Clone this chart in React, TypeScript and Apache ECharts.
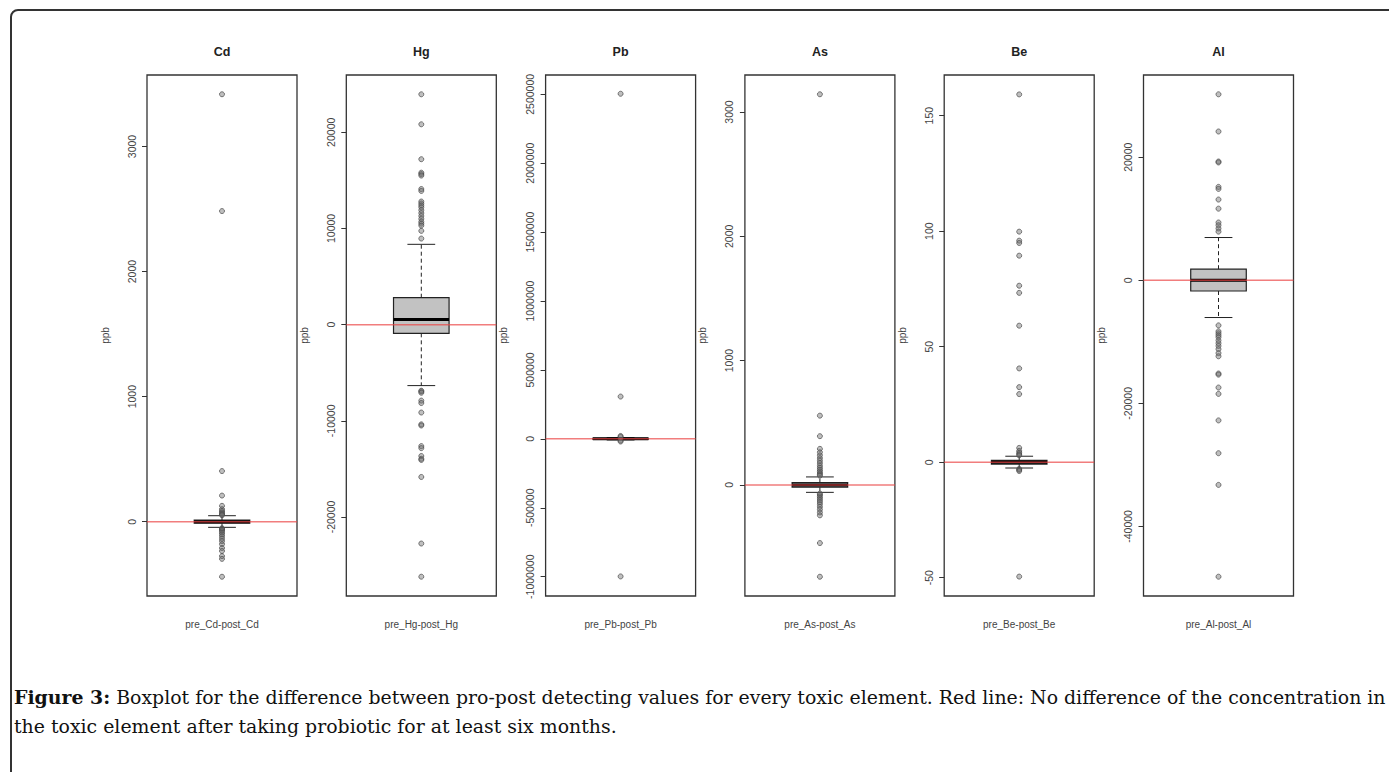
import React, { useEffect, useRef } from "react";
import * as echarts from "echarts";

const elements = ["Cd", "Hg", "Pb", "As", "Be", "Al"];
const xLabels = ["pre_Cd-post_Cd", "pre_Hg-post_Hg", "pre_Pb-post_Pb", "pre_As-post_As", "pre_Be-post_Be", "pre_Al-post_Al"];

// box statistics: [lower whisker, Q1, median, Q3, upper whisker]
const cdBox = [-45, -12, 0, 12, 48];
const hgBox = [-6340, -905, 535, 2800, 8350];
const pbBox = [-8000, -2000, 0, 3000, 9000];
const asBox = [-60, -18, 0, 18, 64];
const beBox = [-2.5, -0.8, 0, 0.8, 2.6];
const alBox = [-6050, -1740, 0, 1800, 6950];

// outliers
const cdOutliers = [3418, 2484, 405, 209, 127, 100, 86, 75, 66, 58, 52, -52, -58, -66, -76, -88, -102, -118, -136, -156, -180, -210, -234, -275, -297, -440];
const hgOutliers = [23950, 20830, 17200, 15800, 15650, 15500, 14100, 13900, 12800, 12600, 12400, 12200, 11900, 11600, 11300, 11000, 10700, 10500, 10300, 9750, 8950, -6870, -6950, -7080, -7900, -8150, -9140, -10370, -10490, -12630, -12840, -13660, -13950, -14070, -15840, -22760, -26210];
const pbOutliers = [2504000, 307000, 21000, 14000, -12000, -19000, -998000];
const asOutliers = [3143, 557, 392, 290, 262, 238, 215, 195, 175, 155, 138, 122, 108, 95, 84, 74, -70, -80, -93, -107, -122, -138, -156, -176, -198, -222, -245, -468, -739];
const beOutliers = [159.2, 99.8, 95.9, 94.9, 89.4, 76.4, 73.3, 59.1, 40.6, 32.5, 29.5, 6.2, 4.9, 4.1, 3.5, 3.0, -2.9, -3.3, -3.8, -49.5];
const alOutliers = [30225, 24180, 19300, 19150, 15180, 14850, 13120, 11640, 9390, 8940, 8420, 7910, -7330, -8300, -8620, -8940, -9260, -9770, -10230, -10670, -11190, -11830, -12350, -15150, -15330, -17430, -18460, -22770, -28100, -33250, -48170];

// axis extents and tick labels
const cdRange = [-594, 3572];
const hgRange = [-28216, 25956];
const pbRange = [-1140000, 2640000];
const asRange = [-894, 3298];
const beRange = [-57.9, 167.6];
const alRange = [-51306, 33361];

const cdTicks = [0, 1000, 2000, 3000];
const hgTicks = [-20000, -10000, 0, 10000, 20000];
const pbTicks = [-1000000, -500000, 0, 500000, 1000000, 1500000, 2000000, 2500000];
const asTicks = [0, 1000, 2000, 3000];
const beTicks = [-50, 0, 50, 100, 150];
const alTicks = [-40000, -20000, 0, 20000];

const captionBold = "Figure 3:";
const captionLine1 = " Boxplot for the difference between pro-post detecting values for every toxic element. Red line: No difference of the concentration in";
const captionLine2 = "the toxic element after taking probiotic for at least six months.";

const boxes = [cdBox, hgBox, pbBox, asBox, beBox, alBox];
const outliers = [cdOutliers, hgOutliers, pbOutliers, asOutliers, beOutliers, alOutliers];
const ranges = [cdRange, hgRange, pbRange, asRange, beRange, alRange];
const ticks = [cdTicks, hgTicks, pbTicks, asTicks, beTicks, alTicks];

const SANS = "'Liberation Sans', Arial, Helvetica, sans-serif";
const SERIF = "'DejaVu Serif', 'Liberation Serif', serif";

export default function App() {
  const ref = useRef<HTMLDivElement>(null);
  useEffect(() => {
    document.body.style.margin = "0";
    const chart = echarts.init(ref.current as HTMLDivElement, null, { renderer: "svg" });
    const left0 = 147;
    const step = 199.3;
    const gw = 150;
    const top = 75;
    const gh = 521;

    const grids: any[] = [];
    const xAxes: any[] = [];
    const yAxes: any[] = [];
    const series: any[] = [];
    const graphics: any[] = [];

    elements.forEach((el, i) => {
      const left = left0 + step * i;
      grids.push({
        left, top, width: gw, height: gh,
        show: true, borderColor: "#333", borderWidth: 1.3, backgroundColor: "transparent",
      });
      xAxes.push({
        gridIndex: i, type: "category", data: [xLabels[i]],
        axisLine: { show: false }, axisTick: { show: false }, splitLine: { show: false },
        axisLabel: { margin: 23, fontSize: 10, color: "#444", fontFamily: SANS },
      });
      yAxes.push({
        gridIndex: i, type: "value", min: ranges[i][0], max: ranges[i][1],
        axisLine: { show: false }, splitLine: { show: false },
        axisTick: { show: true, inside: false, length: 5, customValues: ticks[i], lineStyle: { color: "#333", width: 1 } },
        axisLabel: {
          customValues: ticks[i], rotate: 90, margin: 10, fontSize: 10.5, color: "#444", fontFamily: SANS,
          formatter: (v: number) => String(v),
        },
        name: "ppb", nameLocation: "middle", nameGap: 37, nameRotate: 90,
        nameTextStyle: { fontSize: 10, color: "#444", fontFamily: SANS },
      });
      series.push({
        type: "custom", xAxisIndex: i, yAxisIndex: i, z: 2,
        data: [[0, ...boxes[i]]],
        renderItem: (params: any, api: any) => {
          const x = api.value(0);
          const lo = api.coord([x, api.value(1)]);
          const q1 = api.coord([x, api.value(2)]);
          const md = api.coord([x, api.value(3)]);
          const q3 = api.coord([x, api.value(4)]);
          const hi = api.coord([x, api.value(5)]);
          const band = api.size([1, 0])[0];
          const bw = (band * 0.4) / 1.08;
          const cx = md[0];
          const stroke = "#222";
          return {
            type: "group",
            children: [
              { type: "line", shape: { x1: cx, y1: q3[1], x2: cx, y2: hi[1] }, style: { stroke, lineWidth: 1, lineDash: [4, 3] } },
              { type: "line", shape: { x1: cx, y1: q1[1], x2: cx, y2: lo[1] }, style: { stroke, lineWidth: 1, lineDash: [4, 3] } },
              { type: "line", shape: { x1: cx - bw / 4, y1: hi[1], x2: cx + bw / 4, y2: hi[1] }, style: { stroke, lineWidth: 1 } },
              { type: "line", shape: { x1: cx - bw / 4, y1: lo[1], x2: cx + bw / 4, y2: lo[1] }, style: { stroke, lineWidth: 1 } },
              { type: "rect", shape: { x: cx - bw / 2, y: q3[1], width: bw, height: q1[1] - q3[1] }, style: { fill: "#c2c2c2", stroke, lineWidth: 1.2 } },
              { type: "line", shape: { x1: cx - bw / 2, y1: md[1], x2: cx + bw / 2, y2: md[1] }, style: { stroke: "#000", lineWidth: 3 } },
            ],
          };
        },
      });
      series.push({
        type: "scatter", xAxisIndex: i, yAxisIndex: i, z: 3,
        data: outliers[i].map((v) => [0, v]),
        symbol: "circle", symbolSize: 5,
        itemStyle: { color: "rgba(110,110,110,0.55)", borderColor: "#4a4a4a", borderWidth: 0.9 },
      });
      series.push({
        type: "custom", xAxisIndex: i, yAxisIndex: i, z: 4,
        data: [[0, 0]],
        renderItem: (params: any, api: any) => {
          const cs = params.coordSys;
          const y = api.coord([0, api.value(1)])[1];
          return {
            type: "line",
            shape: { x1: cs.x, y1: y, x2: cs.x + cs.width, y2: y },
            style: { stroke: "rgba(235,70,70,0.7)", lineWidth: 1.5 },
          };
        },
      });
      graphics.push({
        type: "text", x: left + gw / 2, y: 52,
        style: { text: el, align: "center", verticalAlign: "middle", fontSize: 12.5, fontWeight: "bold", fontFamily: SANS, fill: "#222" },
      });
    });

    graphics.push({
      type: "rect", z: 0,
      shape: { x: 11, y: 10, width: 1420, height: 820, r: 7 },
      style: { fill: "none", stroke: "#333", lineWidth: 2 },
    });
    graphics.push({
      type: "text", x: 14, y: 697,
      style: {
        text: "{b|" + captionBold + "}" + captionLine1,
        verticalAlign: "middle", fontSize: 18.9, fontFamily: SERIF, fill: "#111",
        rich: { b: { fontWeight: "bold", fontSize: 18.9, fontFamily: SERIF, fill: "#111" } },
      },
    });
    graphics.push({
      type: "text", x: 14, y: 726,
      style: { text: captionLine2, verticalAlign: "middle", fontSize: 18.9, fontFamily: SERIF, fill: "#111" },
    });

    chart.setOption({
      animation: false,
      backgroundColor: "#fff",
      grid: grids,
      xAxis: xAxes,
      yAxis: yAxes,
      series,
      graphic: graphics,
    });
    return () => chart.dispose();
  }, []);
  return <div ref={ref} style={{ width: 1389, height: 772 }} />;
}
